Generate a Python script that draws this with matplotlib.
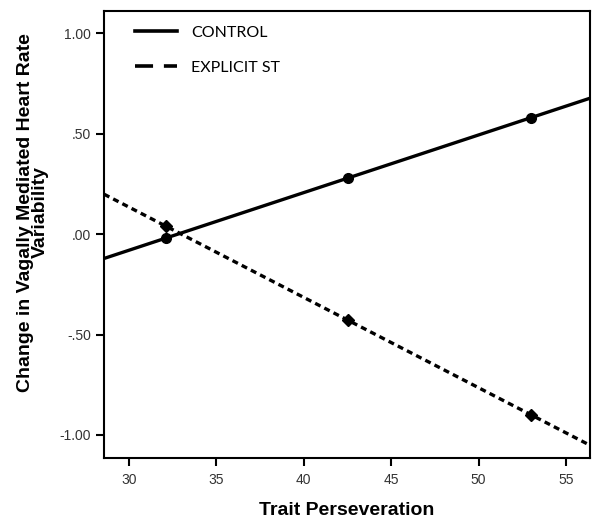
import matplotlib
matplotlib.use("Agg")
import matplotlib.pyplot as plt
from matplotlib.lines import Line2D
import numpy as np

# Data
x_points = [32.1, 42.55, 53.0]
control_vals = [-0.02, 0.28, 0.58]
explicit_vals = [0.04, -0.43, -0.90]
series_names = ["CONTROL", "EXPLICIT ST"]
x_ticks = [30, 35, 40, 45, 50, 55]
y_ticks = [-1.0, -0.5, 0.0, 0.5, 1.0]
y_tick_labels = ["-1.00", "-.50", ".00", ".50", "1.00"]
x_lim = (28.57, 56.37)
y_lim = (-1.115, 1.111)

fig = plt.figure(figsize=(6.04, 5.27), dpi=100)
ax = fig.add_axes([0.1722, 0.1309, 0.9768 - 0.1722, 0.9791 - 0.1309])

xl = np.array(x_lim)

def fit_line(xs, ys):
    m, b = np.polyfit(xs, ys, 1)
    return m * xl + b

ax.plot(xl, fit_line(x_points, control_vals), color="black", lw=2.4, solid_capstyle="butt")
ax.plot(xl, fit_line(x_points, explicit_vals), color="black", lw=2.4, dashes=(1.8, 1.3))
ax.plot(x_points, control_vals, "o", color="black", ms=7, ls="none")
ax.plot(x_points, explicit_vals, "D", color="black", ms=6.5, ls="none")

ax.set_xlim(*x_lim)
ax.set_ylim(*y_lim)
ax.set_xticks(x_ticks)
ax.set_yticks(y_ticks)
ax.set_yticklabels(y_tick_labels)
ax.tick_params(direction="out", length=5.5, width=1.5, labelsize=10, colors="black",
               labelcolor="#333333", top=False, right=False, pad=4)
ax.tick_params(axis="x", pad=5)
for s in ax.spines.values():
    s.set_linewidth(1.5)

for lab in ax.get_xticklabels() + ax.get_yticklabels():
    lab.set_fontfamily("Liberation Sans")

ax.set_xlabel("Trait Perseveration", fontsize=14, fontweight="bold",
              fontfamily="Liberation Sans", labelpad=11)
ax.set_ylabel("Change in Vagally Mediated Heart Rate\nVariability", fontsize=14,
              fontweight="bold", fontfamily="Liberation Sans",
              linespacing=0.85)
ax.yaxis.set_label_coords(-0.113, 0.55)

handles = [Line2D([0], [0], color="black", lw=2.6),
           Line2D([0], [0], color="black", lw=2.6, dashes=(5, 3))]
ax.legend(handles, series_names, loc="upper left", frameon=False,
          bbox_to_anchor=(0.035, 1.0), handlelength=2.6, handletextpad=0.9,
          labelspacing=1.3, prop={"family": "Lato", "size": 11.5})

fig.savefig("out.png", dpi=100)
